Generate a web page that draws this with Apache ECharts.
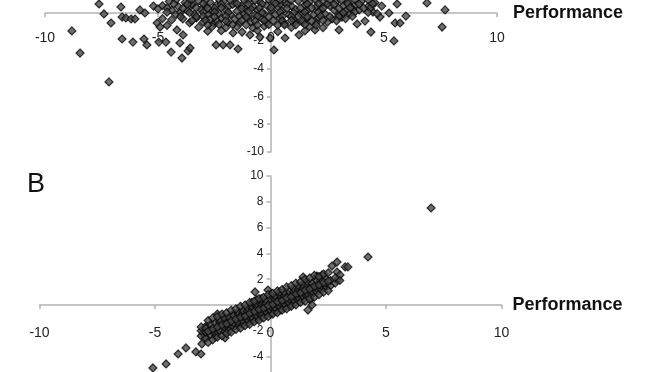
<!DOCTYPE html>
<html>
<head>
<meta charset="utf-8">
<script src="https://cdn.jsdelivr.net/npm/echarts@6/dist/echarts.min.js"></script>
<style>
html,body{margin:0;padding:0;background:#fff;}
#chart{width:668px;height:372px;}
</style>
</head>
<body>
<div id="chart"></div>
<script>
// Panel A (top, cropped) points [x, y]
const panelAPoints = [
  [-7.61,0.65],[-6.64,0.43],[-7.39,-0.07],[-7.08,-0.72],[-8.81,-1.29],[-8.45,-2.88],[-7.17,-4.96],
  [-6.59,-1.87],[-6.11,-2.09],[-5.62,-1.87],[-5.49,-2.30],[-6.59,-0.29],[-6.42,-0.36],[-6.19,-0.43],[-6.02,-0.43],
  [-5.80,0.22],[-5.58,0.0],[-4.96,-2.09],[-4.65,-2.09],[-4.42,-2.81],[-4.03,-2.16],[-3.94,-3.24],[-3.67,-2.73],[-3.58,-2.52],
  [-5.04,-0.72],[-4.91,-1.01],[-4.16,-1.22],[-3.89,-1.58],[-2.43,-2.30],[-2.12,-2.30],[-1.81,-2.30],[-1.46,-2.59],
  [0.13,-2.66],[0.62,-1.80],[1.24,-1.58],[1.06,-0.65],[-0.04,-1.80],[-0.49,-1.73],[-0.93,-1.58],[-1.68,-1.44],[-1.28,-1.37],
  [1.95,-1.22],[3.01,-1.22],[3.14,-0.29],[3.81,-0.79],[4.16,-0.58],[4.42,-1.37],[5.22,0.0],[5.49,-0.72],[5.71,-0.72],[5.97,-0.22],
  [5.44,-2.01],[6.90,0.72],[7.70,0.22],[7.57,-1.01],[5.58,0.65],[4.82,-0.29],[4.51,0.07],
  [-4.8,-0.4],[-4.6,-0.9],[-4.4,-0.5],[-5.2,0.5],[-5.0,0.3],
  [-4.5,0.82],[-3.8,0.75],[-3.2,0.86],[-2.7,0.78],[-2.1,0.84],[-1.6,0.72],[-1.0,0.88],[-0.5,0.79],[0.1,0.83],[0.6,0.74],[1.2,0.87],[1.7,0.8],[2.3,0.76],[2.9,0.85],[3.4,0.78],[4.0,0.83],[4.6,0.73],
  [-4.8,0.52],[-4.1,0.46],[-3.5,0.55],[-2.9,0.48],[-2.4,0.57],[-1.9,0.44],[-1.3,0.53],[-0.8,0.47],[-0.2,0.56],[0.3,0.45],[0.9,0.51],[1.5,0.58],[2.0,0.43],[2.6,0.52],[3.2,0.49],[3.7,0.55],[4.3,0.46],
  [-4.4,0.21],[-3.7,0.16],[-3.1,0.25],[-2.6,0.18],[-2.0,0.23],[-1.5,0.14],[-1.1,0.27],[-0.6,0.19],[0.0,0.22],[0.5,0.15],[1.1,0.24],[1.6,0.17],[2.2,0.26],[2.8,0.2],[3.3,0.13],[3.9,0.22],
  [-4.2,-0.12],[-3.4,-0.08],[-2.8,-0.15],[-2.3,-0.05],[-1.8,-0.11],[-1.2,-0.07],[-0.7,-0.14],[-0.3,-0.06],[0.2,-0.1],[0.8,-0.13],[1.3,-0.04],[1.9,-0.12],[2.4,-0.08],[3.0,-0.15],[3.5,-0.05],
  [-3.9,-0.42],[-3.3,-0.36],[-2.7,-0.45],[-2.2,-0.38],[-1.6,-0.44],[-1.0,-0.35],[-0.4,-0.41],[0.4,-0.37],[1.0,-0.46],[1.6,-0.39],[2.1,-0.34],[2.7,-0.43],[3.3,-0.4],
  [-3.6,-0.71],[-3.0,-0.66],[-2.5,-0.75],[-1.9,-0.68],[-1.4,-0.73],[-0.9,-0.64],[-0.2,-0.7],[0.6,-0.76],[1.4,-0.67],[2.0,-0.72],[2.5,-0.65],
  [-3.2,-1.02],[-2.6,-0.96],[-2.0,-1.05],[-1.5,-0.98],[-0.8,-1.08],[-0.3,-0.95],[0.9,-1.03],[1.7,-0.97],[2.3,-1.06],
  [-2.8,-1.31],[-2.2,-1.27],[-0.6,-1.25],[0.3,-1.34],[1.5,-1.29],
  [-3.5,0.65],[-2.5,0.35],[-1.7,0.62],[-0.9,0.32],[0.4,0.66],[1.3,0.35],[2.5,0.66],[3.0,0.33],[3.6,0.3],
  [-3.0,0.05],[-1.4,-0.25],[-0.1,-0.28],[1.2,-0.22],[2.6,-0.27],[-2.4,-0.55],[0.1,-0.55],[1.8,-0.58],
  [-1.1,-0.85],[0.3,-0.88],[-2.3,-0.82],[1.1,-0.85],[-3.3,-0.25],[4.4,0.35],[4.9,0.5],[4.7,-0.05],[-4.0,0.05],
  [-4.2,0.95],[-3.5,0.97],[-2.9,0.93],[-2.3,0.98],[-1.8,0.94],[-1.2,0.96],[-0.7,0.92],[-0.1,0.97],[0.4,0.95],[0.9,0.93],[1.5,0.98],[2.0,0.94],[2.6,0.96],[3.1,0.92],[3.7,0.97],[4.3,0.95],
  [-4.3,0.66],[-3.7,0.63],[-3.0,0.68],[-2.2,0.64],[-1.5,0.67],[-1.0,0.62],[-0.4,0.66],[0.2,0.69],[0.7,0.63],[1.6,0.65],[2.1,0.68],[2.8,0.62],[3.4,0.66],[3.9,0.64],[4.5,0.67],
  [-4.6,0.36],[-3.9,0.33],[-3.3,0.37],[-2.8,0.34],[-2.2,0.38],[-1.3,0.32],[-0.5,0.36],[0.0,0.39],[0.7,0.33],[1.8,0.36],[2.3,0.34],[3.5,0.38],[4.1,0.35],
  [-4.6,0.06],[-3.6,0.03],[-2.5,0.07],[-1.9,0.04],[-1.0,0.08],[-0.4,0.02],[0.4,0.06],[1.0,0.03],[1.5,0.07],[2.1,0.05],[3.2,0.02],[3.7,0.06],[4.3,0.04],
  [-4.0,-0.26],[-3.0,-0.23],[-2.5,-0.27],[-2.0,-0.24],[-1.1,-0.28],[-0.6,-0.22],[0.5,-0.26],[0.9,-0.24],[1.6,-0.27],[2.2,-0.23],[3.0,-0.26],[3.6,-0.24],
  [-3.5,-0.56],[-2.9,-0.53],[-2.0,-0.57],[-1.3,-0.54],[-0.7,-0.58],[-0.3,-0.52],[0.5,-0.56],[0.9,-0.54],[1.4,-0.57],[2.3,-0.53],[2.9,-0.56],
  [-2.8,-0.86],[-1.7,-0.83],[-0.6,-0.87],[-0.1,-0.84],[0.6,-0.86],[1.5,-0.82],[2.0,-0.87]
];

// Panel B (bottom) points [x, y]
const panelBPoints = [
  [-5.09,-4.88],[-4.52,-4.57],[-4.00,-3.80],[-3.66,-3.33],[-3.23,-3.64],[-3.01,-3.80],[-2.97,-3.02],[-2.84,-2.48],
  [-2.79,-1.63],[-2.92,-2.17],[-2.53,-2.09],[-2.32,-2.17],[-1.97,-2.56],[-1.88,-2.17],
  [6.95,7.52],[4.22,3.72],[2.88,3.33],[2.66,3.02],[3.23,2.95],[3.35,2.95],[2.88,2.56],[3.01,2.33],[2.88,1.94],
  [2.23,2.33],[2.01,2.25],[1.41,2.17],[-0.67,1.01],[-0.11,1.16],[1.71,0.39],[1.80,0.0],[2.36,1.40],[1.62,-0.39],
  [-2.2,-1.4],[-2.0,-1.35],[-2.3,-0.7],[-2.05,-0.9],[-1.85,-1.0],[-1.65,-0.75],
  [-3.0,-2.4],[-3.0,-2.0],[-3.0,-1.7],
  [-2.8,-2.6],[-2.8,-2.1],[-2.8,-1.8],
  [-2.6,-2.3],[-2.6,-1.9],[-2.6,-1.5],
  [-2.4,-2.2],[-2.4,-1.8],[-2.4,-1.4],[-2.4,-2.5],
  [-2.2,-2.0],[-2.2,-1.6],[-2.2,-1.3],[-2.2,-1.1],
  [-2.0,-2.1],[-2.0,-1.7],[-2.0,-1.4],[-2.0,-1.0],
  [-1.8,-1.8],[-1.8,-1.5],[-1.8,-1.2],[-1.8,-0.9],[-1.8,-2.0],
  [-1.6,-1.7],[-1.6,-1.4],[-1.6,-1.1],[-1.6,-0.8],
  [-1.4,-1.6],[-1.4,-1.3],[-1.4,-1.0],[-1.4,-0.7],[-1.4,-0.5],
  [-1.2,-1.5],[-1.2,-1.2],[-1.2,-0.9],[-1.2,-0.6],[-1.2,-0.4],
  [-1.0,-1.4],[-1.0,-1.1],[-1.0,-0.8],[-1.0,-0.5],[-1.0,-0.2],
  [-0.8,-1.2],[-0.8,-0.9],[-0.8,-0.6],[-0.8,-0.3],[-0.8,-0.1],[-0.8,0.2],
  [-0.6,-1.1],[-0.6,-0.8],[-0.6,-0.5],[-0.6,-0.2],[-0.6,0.1],[-0.6,0.4],
  [-0.4,-0.9],[-0.4,-0.6],[-0.4,-0.3],[-0.4,0.0],[-0.4,0.3],[-0.4,0.5],
  [-0.2,-0.8],[-0.2,-0.5],[-0.2,-0.2],[-0.2,0.1],[-0.2,0.4],
  [0.0,-0.7],[0.0,-0.4],[0.0,-0.1],[0.0,0.2],[0.0,0.5],[0.0,0.8],
  [0.2,-0.5],[0.2,-0.2],[0.2,0.1],[0.2,0.4],[0.2,0.7],
  [0.4,-0.4],[0.4,-0.1],[0.4,0.2],[0.4,0.5],[0.4,0.8],[0.4,1.0],
  [0.6,-0.2],[0.6,0.1],[0.6,0.4],[0.6,0.7],[0.6,1.0],
  [0.8,-0.1],[0.8,0.2],[0.8,0.5],[0.8,0.8],[0.8,1.1],
  [1.0,0.1],[1.0,0.4],[1.0,0.7],[1.0,1.0],[1.0,1.3],
  [1.2,0.3],[1.2,0.6],[1.2,0.9],[1.2,1.2],[1.2,1.5],
  [1.4,0.4],[1.4,0.7],[1.4,1.0],[1.4,1.3],[1.4,1.6],
  [1.6,0.6],[1.6,0.9],[1.6,1.2],[1.6,1.5],[1.6,1.8],
  [1.8,0.8],[1.8,1.1],[1.8,1.4],[1.8,1.7],
  [2.0,1.0],[2.0,1.3],[2.0,1.6],[2.0,1.9],
  [2.2,1.2],[2.2,1.5],[2.2,1.8],
  [2.4,1.4],[2.4,1.7],[2.4,2.0],
  [2.6,1.5],[2.6,1.9],
  [2.8,1.7],[2.8,2.1],
  [3.0,1.9],
  [-2.7,-1.2],[-2.7,-2.9],[-2.5,-1.0],[-2.5,-2.7],[-2.3,-0.9],[-2.3,-2.5],[-2.1,-0.7],[-2.1,-2.4],
  [-1.9,-0.6],[-1.9,-2.2],[-1.7,-0.4],[-1.7,-2.1],[-1.5,-0.3],[-1.5,-1.9],[-1.3,-0.1],[-1.3,-1.8],
  [-1.1,0.0],[-1.1,-1.6],[-0.9,0.2],[-0.9,-1.5],[-0.7,0.3],[-0.7,-1.3],[-0.5,0.5],[-0.5,-1.2],
  [-0.3,0.6],[-0.3,-1.0],[-0.1,0.8],[-0.1,-0.9],[0.1,0.9],[0.1,-0.7],[0.3,1.1],[0.3,-0.6],
  [0.5,1.2],[0.5,-0.4],[0.7,1.4],[0.7,-0.3],[0.9,1.5],[0.9,-0.1],[1.1,1.7],[1.1,0.0],
  [1.3,1.8],[1.3,0.2],[1.5,2.0],[1.5,0.3],[1.7,2.1],[1.7,0.5],[1.9,2.3],[1.9,0.6],
  [2.1,2.2],[2.1,0.8],[2.3,2.4],[2.3,1.0],[2.5,2.5],[2.5,1.1],
  [-2.7,-2.05],[-2.5,-1.85],[-2.3,-1.7],[-2.1,-1.55],[-1.9,-1.45],[-1.7,-1.25],[-1.5,-1.1],[-1.3,-0.95],
  [-1.1,-0.85],[-0.9,-0.65],[-0.7,-0.5],[-0.5,-0.35],[-0.3,-0.25],[-0.1,-0.05],[0.1,0.05],[0.3,0.25],
  [0.5,0.35],[0.7,0.55],[0.9,0.65],[1.1,0.85],[1.3,0.95],[1.5,1.15],[1.7,1.25],[1.9,1.45],[2.1,1.55],
  [2.3,1.75],[2.5,1.85]
];

const xTicksInterval = 5;
const yTicksInterval = 2;

const chart = echarts.init(document.getElementById('chart'), null, {renderer: 'canvas'});

const axisColor = '#b3b3b3';
function xAxisCfg(gridIndex, offset, margin, gap) {
  return {
    type: 'value', gridIndex: gridIndex, min: -10, max: 10, interval: xTicksInterval,
    position: 'bottom', offset: offset,
    axisLine: {onZero: false, lineStyle: {color: axisColor, width: 1.5}},
    axisTick: {show: true, inside: false, length: 4, lineStyle: {color: axisColor, width: 1.5}},
    axisLabel: {margin: margin, fontSize: 14, color: '#222', fontFamily: 'Liberation Sans'},
    splitLine: {show: false},
    name: 'Performance', nameLocation: 'end', nameGap: gap,
    nameTextStyle: {fontSize: 18, fontWeight: 'bold', color: '#111', fontFamily: 'Liberation Sans', verticalAlign: 'middle', align: 'left'}
  };
}
function yAxisCfg(gridIndex, offset) {
  return {
    type: 'value', gridIndex: gridIndex, min: -10, max: 10, interval: yTicksInterval,
    position: 'left', offset: offset,
    axisLine: {onZero: false, lineStyle: {color: axisColor, width: 1.5}},
    axisTick: {show: true, inside: false, length: 4, lineStyle: {color: axisColor, width: 1.5}},
    axisLabel: {margin: 7, fontSize: 12, color: '#222', fontFamily: 'Liberation Sans',
      formatter: function (v) { return v === 0 ? '' : String(v); }},
    splitLine: {show: false}
  };
}

const itemStyle = {color: '#484848', borderColor: '#0a0a0a', borderWidth: 1.2};

chart.setOption({
  animation: false,
  backgroundColor: '#ffffff',
  grid: [
    {left: 45, width: 452, top: -126, height: 278, outerBoundsMode: 'none', containLabel: false},
    {left: 39.5, width: 462, top: 176, height: 258, outerBoundsMode: 'none', containLabel: false}
  ],
  xAxis: [xAxisCfg(0, -139, 18, 16), xAxisCfg(1, -129, 21, 11)],
  yAxis: [yAxisCfg(0, -226), yAxisCfg(1, -231)],
  graphic: [
    {type: 'text', left: 27, top: 171, style: {text: 'B', fontSize: 27, fontFamily: 'Liberation Sans', fill: '#111'}}
  ],
  series: [
    {type: 'scatter', xAxisIndex: 0, yAxisIndex: 0, data: panelAPoints, symbol: 'diamond', symbolSize: 8, itemStyle: itemStyle},
    {type: 'scatter', xAxisIndex: 1, yAxisIndex: 1, data: panelBPoints, symbol: 'diamond', symbolSize: 8, itemStyle: itemStyle}
  ]
});
</script>
</body>
</html>
